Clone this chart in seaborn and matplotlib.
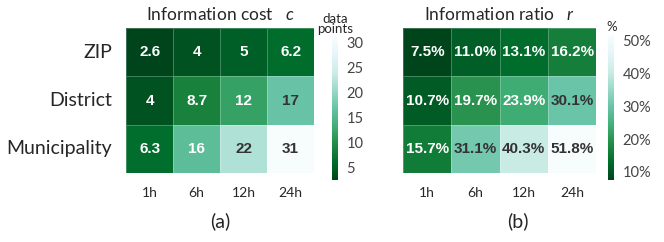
import numpy as np
import pandas as pd
import seaborn as sns
import matplotlib.pyplot as plt

regions = ['ZIP', 'District', 'Municipality']
windows = ['1h', '6h', '12h', '24h']

cost = [[2.6, 4, 5, 6.2],
        [4, 8.7, 12, 17],
        [6.3, 16, 22, 31]]
ratio = [[7.5, 11.0, 13.1, 16.2],
         [10.7, 19.7, 23.9, 30.1],
         [15.7, 31.1, 40.3, 51.8]]

cost_df = pd.DataFrame(cost, index=regions, columns=windows)
ratio_df = pd.DataFrame(ratio, index=regions, columns=windows)

sns.set_theme(style='white')
plt.rcParams['font.family'] = ['Lato', 'DejaVu Sans']
plt.rcParams['mathtext.fontset'] = 'custom'
plt.rcParams['mathtext.it'] = 'Lato:italic'

fig = plt.figure(figsize=(6.64, 2.42), dpi=100)
ax1 = fig.add_axes([0.190, 0.285, 0.283, 0.599])
cax1 = fig.add_axes([0.500, 0.256, 0.009, 0.591])
ax2 = fig.add_axes([0.607, 0.285, 0.291, 0.599])
cax2 = fig.add_axes([0.916, 0.256, 0.009, 0.599])

annot_kw = dict(fontsize=11, fontweight='bold', family='Liberation Sans')
grid = dict(linewidths=0.6, linecolor=(1, 1, 1, 0.25))

sns.heatmap(cost_df, ax=ax1, cbar_ax=cax1, cmap='BuGn_r', annot=True, fmt='.2g',
            annot_kws=annot_kw, **grid)
sns.heatmap(ratio_df, ax=ax2, cbar_ax=cax2, cmap='BuGn_r', annot=True, fmt='.1f',
            annot_kws=annot_kw, **grid)
for t in ax2.texts:
    t.set_text(t.get_text() + '%')

# white text on the darker half, dark grey on the lighter half
for ax, df in [(ax1, cost_df), (ax2, ratio_df)]:
    vals = df.values.ravel()
    lo, hi = vals.min(), vals.max()
    for t, v in zip(ax.texts, vals):
        t.set_color('#333333' if (v - lo) / (hi - lo) > 0.5 else 'white')

for ax, title in [(ax1, 'Information cost   $c$'), (ax2, 'Information ratio   $r$')]:
    ax.set_title(title, fontsize=12.5, pad=6)
    ax.set_xlabel('')
    ax.set_ylabel('')
    ax.tick_params(axis='x', labelsize=10, length=0, pad=10, rotation=0)
    ax.tick_params(axis='y', labelsize=14, length=0, pad=10, rotation=0)
ax2.set_yticklabels([])

cax1.set_yticks([5, 10, 15, 20, 25, 30])
cax2.set_yticks([10, 20, 30, 40, 50])
cax2.set_yticklabels(['10%', '20%', '30%', '40%', '50%'])
for cax in (cax1, cax2):
    cax.tick_params(labelsize=10.5, length=0, pad=6, labelcolor='#444444')
    for s in cax.spines.values():
        s.set_visible(False)
cax1.set_title('data\npoints', fontsize=9.5, pad=3, linespacing=0.8)
cax2.set_title('%', fontsize=9.5, pad=3)

fig.text(0.331, 0.06, '(a)', fontsize=14, ha='center')
fig.text(0.780, 0.06, '(b)', fontsize=14, ha='center')

fig.savefig('out.png', dpi=100)
